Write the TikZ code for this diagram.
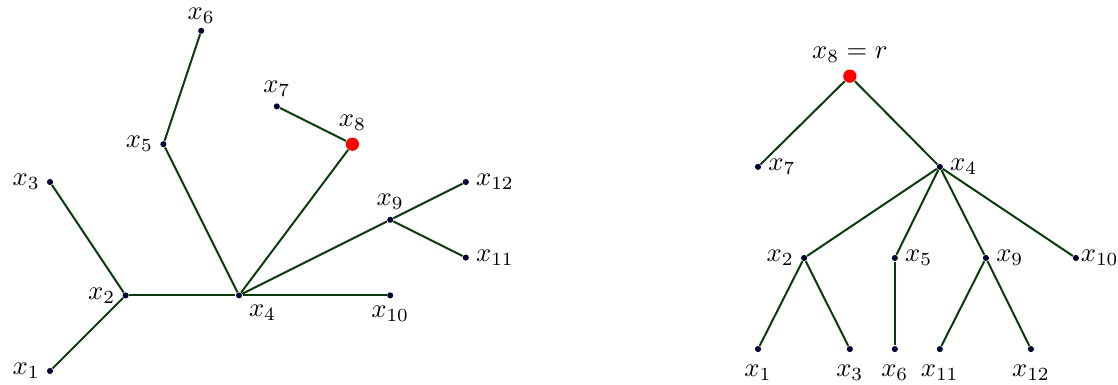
\documentclass[tikz,border=0pt]{standalone}
\usepackage{tikz}
\usepackage{xcolor}
\definecolor{edge}{HTML}{0B3A0B}
\definecolor{pt}{HTML}{000033}
\definecolor{root}{HTML}{FF0000}

\begin{document}
\begin{tikzpicture}[
  x=0.5cm,y=0.5cm,
  label distance=-1pt,
  v/.style={circle,fill=pt,inner sep=0pt,minimum size=2.3pt},
  r/.style={circle,fill=root,inner sep=0pt,minimum size=5pt},
  leaf/.style={v,label={[label distance=1pt]below:#1}},
  e/.style={draw=edge,line width=0.75pt}]
\useasboundingbox (-1.323,-0.370) rectangle (28.254,9.815);
% left: the graph
\node[v,label=left:$x_1$] (a1) at (0,0) {};
\node[v,label=left:$x_2$] (a2) at (2,2) {};
\node[v,label=left:$x_3$] (a3) at (0,5) {};
\node[v,label=below right:$x_4$] (a4) at (5,2) {};
\node[v,label=left:$x_5$] (a5) at (3,6) {};
\node[v,label={[label distance=-2pt]above:$x_6$}] (a6) at (4,9) {};
\node[v,label=above:$x_7$] (a7) at (6,7) {};
\node[r,label=above:$x_8$] (a8) at (8,6) {};
\node[v,label=above:$x_9$] (a9) at (9,4) {};
\node[v,label=below:$x_{10}$] (a10) at (9,2) {};
\node[v,label=right:$x_{11}$] (a11) at (11,3) {};
\node[v,label=right:$x_{12}$] (a12) at (11,5) {};
\draw[e] (a1)--(a2); \draw[e] (a2)--(a3); \draw[e] (a2)--(a4);
\draw[e] (a4)--(a5); \draw[e] (a5)--(a6); \draw[e] (a4)--(a8);
\draw[e] (a8)--(a7); \draw[e] (a4)--(a9); \draw[e] (a9)--(a12);
\draw[e] (a9)--(a11); \draw[e] (a4)--(a10);
% right: rooted at x8
\node[r,label={above:$x_8=r$}] (b8) at (21.16,7.80) {};
\node[v,label=right:$x_7$] (b7) at (18.73,5.40) {};
\node[v,label=right:$x_4$] (b4) at (23.54,5.40) {};
\node[v,label=left:$x_2$] (b2) at (19.95,2.99) {};
\node[v,label=right:$x_5$] (b5) at (22.35,2.99) {};
\node[v,label=right:$x_9$] (b9) at (24.76,2.99) {};
\node[v,label={[label distance=-3pt]right:$x_{10}$}] (b10) at (27.14,2.99) {};
\node[leaf=$x_1$] (b1) at (18.73,0.58) {};
\node[leaf=$x_3$] (b3) at (21.16,0.58) {};
\node[leaf=$x_6$] (b6) at (22.35,0.58) {};
\node[leaf=$x_{11}$] (b11) at (23.54,0.58) {};
\node[leaf=$x_{12}$] (b12) at (25.95,0.58) {};
\draw[e] (b8)--(b7); \draw[e] (b8)--(b4);
\draw[e] (b4)--(b2); \draw[e] (b4)--(b5); \draw[e] (b4)--(b9); \draw[e] (b4)--(b10);
\draw[e] (b2)--(b1); \draw[e] (b2)--(b3); \draw[e] (b5)--(b6);
\draw[e] (b9)--(b11); \draw[e] (b9)--(b12);
\end{tikzpicture}
\end{document}
